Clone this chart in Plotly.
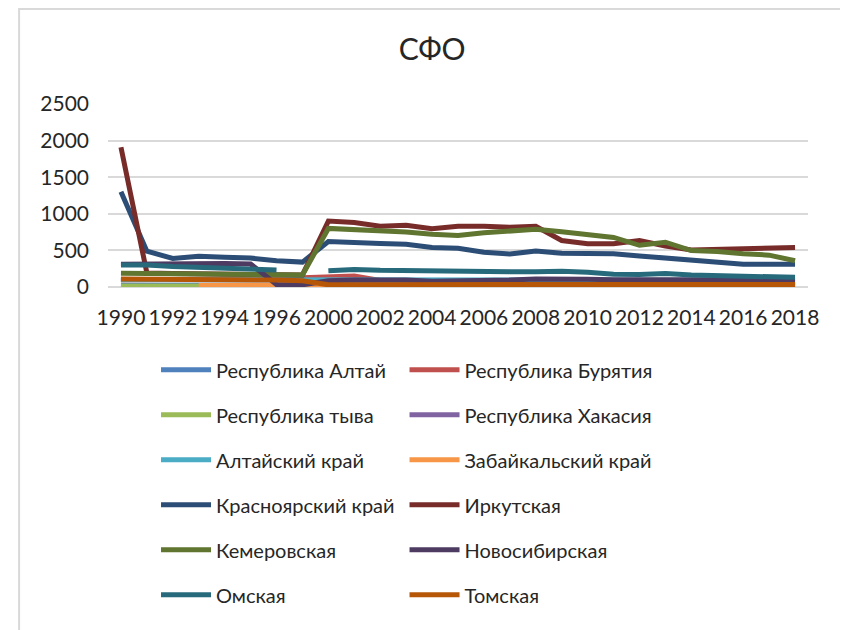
#!/usr/bin/env python3
# -*- coding: utf-8 -*-
"""
plot.py – СФО line chart (Excel-style), rebuilt with Plotly
"""

import plotly.graph_objects as go

# Data
years = ["1990", "1991", "1992", "1993", "1994", "1995", "1996", "1997",
         "2000", "2001", "2002", "2003", "2004", "2005", "2006", "2007", "2008",
         "2009", "2010", "2011", "2012", "2013", "2014", "2015", "2016", "2017", "2018"]
tick_years = years[::2]

altai_rep = [20, 20, 20, 20, 20, 20, 20, 20,
             20, 20, 20, 20, 20, 20, 20, 20, 20,
             20, 20, 20, 20, 20, 20, 20, 20, 20, 20]
buryatia = [100, 100, 100, 100, 100, 100, 110, 125,
            140, 150, 90, 60, 60, 60, 60, 60, 60,
            60, 60, 60, 60, 60, 60, 60, 60, 60, 60]
tyva = [15, 15, 15, 15, 15, 15, 15, 15,
        15, 15, 15, 15, 15, 15, 15, 15, 15,
        15, 15, 15, 15, 15, 15, 15, 15, 15, 15]
khakassia = [100, 100, 100, 100, 100, 100, 100, 100,
             60, 60, 60, 60, 60, 60, 60, 60, 60,
             60, 60, 60, 60, 60, 60, 60, 60, 60, 60]
altai_krai = [100, 100, 100, 100, 100, 100, 100, 100,
              90, 90, 90, 90, 90, 90, 90, 90, 90,
              90, 90, 90, 90, 90, 90, 90, 90, 90, 90]
zabaikal = [None, None, None, 20, 20, 20, 20, 20,
            20, 20, 20, 20, 20, 20, 20, 20, 20,
            20, 20, 20, 20, 20, 20, 20, 20, 20, 20]
krasnoyarsk = [1300, 490, 390, 420, 405, 395, 360, 340,
               620, 615, 595, 585, 540, 530, 475, 450, 490,
               460, 460, 455, 425, 395, 375, 330, 310, 310, 310]
irkutsk = [1910, 190, 183, 180, 175, 172, 170, 165,
           900, 880, 830, 845, 795, 830, 830, 815, 830,
           635, 590, 590, 635, 560, 505, 515, 525, 525, 540]
kemerovo = [187, 185, 183, 180, 175, 172, 170, 165,
            800, 788, 770, 750, 720, 703, 740, 768, 790,
            755, 722, 677, 570, 612, 497, 485, 455, 435, 358]
novosib = [310, 315, 320, 320, 320, 315, 35, 30,
           85, 95, 100, 95, 80, 80, 85, 95, 110,
           100, 105, 100, 100, 105, 100, 100, 100, 100, 100]
omsk = [300, 300, 280, 270, 255, 242, 232, None,
        222, 240, 228, 222, 225, 225, 212, 210, 210,
        215, 200, 175, 172, 185, 163, 155, 135, 132, 132]
tomsk = [110, 110, 108, 106, 105, 103, 95, 85,
         30, 30, 32, 30, 28, 30, 30, 32, 35,
         35, 35, 35, 35, 35, 35, 35, 35, 35, 35]

# (name, values, colour, legend column)
series = [
    ("Республика Алтай", altai_rep, "#4F81BD", "legend"),
    ("Республика Бурятия", buryatia, "#C0504D", "legend2"),
    ("Республика тыва", tyva, "#9BBB59", "legend"),
    ("Республика Хакасия", khakassia, "#8064A2", "legend2"),
    ("Алтайский край", altai_krai, "#4BACC6", "legend"),
    ("Забайкальский край", zabaikal, "#F79646", "legend2"),
    ("Красноярский край", krasnoyarsk, "#2C4D75", "legend"),
    ("Иркутская", irkutsk, "#772C2A", "legend2"),
    ("Кемеровская", kemerovo, "#5F7530", "legend"),
    ("Новосибирская", novosib, "#4D3B62", "legend2"),
    ("Омская", omsk, "#276A7C", "legend"),
    ("Томская", tomsk, "#B65708", "legend2"),
]

FONT = "Lato"
TEXT = "#262626"
GRID = "#D9D9D9"

fig = go.Figure()
for name, vals, colour, leg in series:
    fig.add_trace(go.Scatter(
        x=years, y=vals, name=name, mode="lines",
        line=dict(color=colour, width=5),
        legend=leg, legendgroup=name,
    ))

legend_style = dict(
    orientation="v", yanchor="top", xanchor="left",
    font=dict(family=FONT, size=20, color=TEXT),
    bgcolor="rgba(0,0,0,0)", tracegroupgap=16, itemwidth=50,
)

# the page body adds an 8px margin, so the figure is 8px smaller each way
fig.update_layout(
    width=840, height=622,
    margin=dict(l=100, r=40, t=96, b=343),
    paper_bgcolor="white", plot_bgcolor="white",
    title=dict(text="СФО", x=0.505, xanchor="center", y=0.9325, yanchor="middle",
               font=dict(family=FONT, size=30, color=TEXT)),
    xaxis=dict(type="category", categoryorder="array", categoryarray=years,
               range=[-0.5, len(years) - 0.5], tickmode="array", tickvals=tick_years,
               showgrid=False, showline=False, zeroline=False, ticks="",
               ticklabelstandoff=16,
               tickfont=dict(family=FONT, size=21, color=TEXT)),
    yaxis=dict(range=[0, 2500], tickmode="linear", dtick=500,
               showgrid=True, gridcolor=GRID, gridwidth=2,
               zeroline=True, zerolinecolor=GRID, zerolinewidth=2,
               showline=False, ticks="", ticklabelstandoff=18,
               tickfont=dict(family=FONT, size=21, color=TEXT)),
    legend=dict(x=0.0686, y=-0.346, **legend_style),
    legend2=dict(x=0.4236, y=-0.346, **legend_style),
    shapes=[dict(type="rect", xref="paper", yref="paper",
                 x0=-0.127, x1=1.056, y0=-2.0, y1=1.519,
                 line=dict(color=GRID, width=2), layer="below")],
)

fig.write_html("out.html")
